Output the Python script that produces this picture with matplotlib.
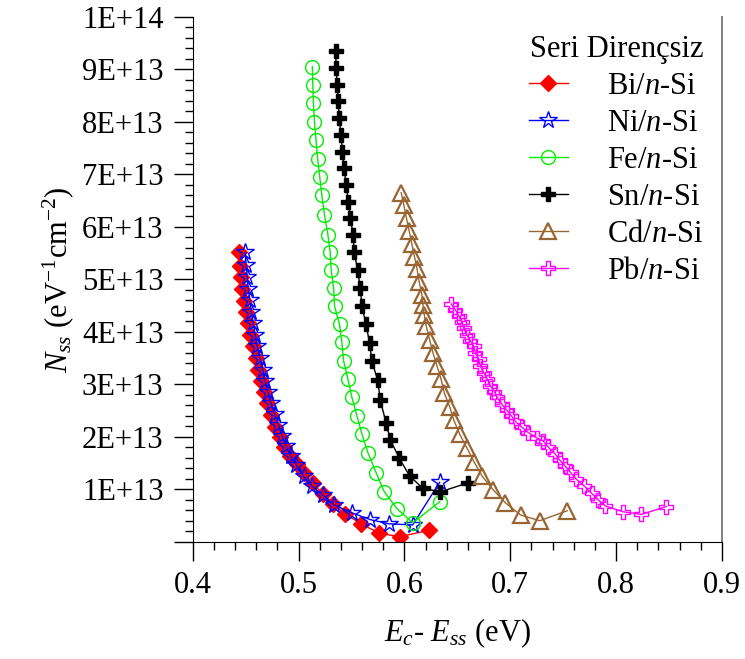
import matplotlib
matplotlib.use("Agg")
import matplotlib.pyplot as plt
from matplotlib.ticker import MultipleLocator, FuncFormatter

plt.rcParams["font.family"] = ["Liberation Serif", "DejaVu Serif"]
plt.rcParams["mathtext.fontset"] = "custom"
plt.rcParams["mathtext.rm"] = "Liberation Serif"
plt.rcParams["mathtext.it"] = "Liberation Serif:italic"

# E_c - E_ss (eV) and N_ss (x 1E13 eV^-1 cm^-2)
bi_x = [0.4441, 0.4447, 0.4457, 0.4470, 0.4489, 0.4504, 0.4520, 0.4542, 0.4567, 0.4596,
        0.4621, 0.4646, 0.4675, 0.4706, 0.4741, 0.4779, 0.4820, 0.4864, 0.4915, 0.4983,
        0.5053, 0.5135, 0.5230, 0.5330, 0.5441, 0.5592, 0.5763, 0.5958, 0.6236]
bi_y = [5.51, 5.26, 5.04, 4.81, 4.59, 4.38, 4.16, 3.94, 3.72, 3.50,
        3.27, 3.07, 2.85, 2.64, 2.42, 2.19, 1.99, 1.80, 1.63, 1.48,
        1.30, 1.11, 0.91, 0.72, 0.53, 0.34, 0.16, 0.095, 0.22]

ni_x = [0.4495, 0.4505, 0.4515, 0.4525, 0.4540, 0.4555, 0.4570, 0.4590, 0.4610, 0.4635,
        0.4660, 0.4685, 0.4710, 0.4740, 0.4775, 0.4810, 0.4845, 0.4880, 0.4925, 0.4975,
        0.5047, 0.5125, 0.5230, 0.5337, 0.5504, 0.5678, 0.5857, 0.6078, 0.6333]
ni_y = [5.51, 5.28, 5.05, 4.82, 4.60, 4.38, 4.16, 3.94, 3.72, 3.50,
        3.28, 3.06, 2.85, 2.64, 2.43, 2.22, 2.02, 1.83, 1.64, 1.47,
        1.25, 1.06, 0.89, 0.70, 0.55, 0.42, 0.34, 0.32, 1.13]

fe_x = [0.5130, 0.5135, 0.5140, 0.5150, 0.5165, 0.5180, 0.5200, 0.5220, 0.5245, 0.5277,
        0.5299, 0.5308, 0.5331, 0.5340, 0.5387, 0.5409, 0.5425, 0.5466, 0.5504, 0.5551,
        0.5599, 0.5656, 0.5734, 0.5810, 0.5930, 0.6078, 0.6333]
fe_y = [9.05, 8.70, 8.35, 8.00, 7.65, 7.30, 6.95, 6.60, 6.22, 5.85,
        5.51, 5.18, 4.84, 4.49, 4.14, 3.80, 3.45, 3.10, 2.75, 2.40,
        2.05, 1.69, 1.31, 0.95, 0.63, 0.36, 0.76]

sn_x = [0.5350, 0.5355, 0.5365, 0.5375, 0.5385, 0.5400, 0.5415, 0.5430, 0.5450, 0.5470,
        0.5490, 0.5514, 0.5526, 0.5558, 0.5583, 0.5599, 0.5636, 0.5671, 0.5693, 0.5747,
        0.5772, 0.5826, 0.5867, 0.5952, 0.6050, 0.6173, 0.6340, 0.6600]
sn_y = [9.35, 9.03, 8.71, 8.39, 8.07, 7.75, 7.43, 7.11, 6.80, 6.48,
        6.17, 5.85, 5.51, 5.18, 4.83, 4.49, 4.15, 3.79, 3.44, 3.08,
        2.70, 2.27, 1.94, 1.59, 1.25, 1.02, 0.95, 1.12]

cd_x = [0.5970, 0.5995, 0.6020, 0.6045, 0.6070, 0.6095, 0.6120, 0.6140, 0.6166, 0.6176,
        0.6188, 0.6207, 0.6238, 0.6271, 0.6308, 0.6346, 0.6378, 0.6428, 0.6466, 0.6522,
        0.6592, 0.6661, 0.6734, 0.6838, 0.6955, 0.7097, 0.7279, 0.7538]
cd_y = [6.65, 6.41, 6.16, 5.92, 5.68, 5.43, 5.19, 4.94, 4.70, 4.51,
        4.32, 4.10, 3.85, 3.59, 3.35, 3.10, 2.83, 2.57, 2.32, 2.05,
        1.78, 1.51, 1.25, 0.99, 0.74, 0.51, 0.40, 0.59]

pb_x = [0.6441, 0.6481, 0.6513, 0.6545, 0.6560, 0.6592, 0.6623, 0.6655, 0.6671, 0.6702,
        0.6718, 0.6749, 0.6781, 0.6813, 0.6851, 0.6876, 0.6920, 0.6970, 0.7010, 0.7050,
        0.7110, 0.7170, 0.7250, 0.7310, 0.7360, 0.7420, 0.7470, 0.7520, 0.7570, 0.7620,
        0.7700, 0.7770, 0.7830, 0.7900, 0.8068, 0.8240, 0.8475]
pb_y = [4.53, 4.42, 4.30, 4.19, 4.07, 3.94, 3.83, 3.72, 3.59, 3.48,
        3.35, 3.22, 3.10, 2.97, 2.86, 2.75, 2.62, 2.50, 2.40, 2.29,
        2.18, 2.08, 1.98, 1.92, 1.80, 1.68, 1.55, 1.44, 1.32, 1.20,
        1.06, 0.92, 0.80, 0.68, 0.57, 0.52, 0.67]

SCALE = 1e13

fig = plt.figure(figsize=(7.45, 6.59), dpi=100)
ax = fig.add_axes([0.2587, 0.178, 0.7103, 0.7965])

series = [
    ("Bi/$n$-Si", bi_x, bi_y, dict(color="#FF0000", marker="D", ms=8, mfc="#FF0000", mec="#FF0000")),
    ("Ni/$n$-Si", ni_x, ni_y, dict(color="#0000FF", marker="*", ms=13, mfc="none", mec="#0000FF", mew=1.0)),
    ("Fe/$n$-Si", fe_x, fe_y, dict(color="#00EE00", marker="o", ms=10, mfc="none", mec="#00EE00", mew=1.0)),
    ("Sn/$n$-Si", sn_x, sn_y, dict(color="#000000", marker="P", ms=10, mfc="#000000", mec="#000000")),
    ("Cd/$n$-Si", cd_x, cd_y, dict(color="#996633", marker="^", ms=11, mfc="none", mec="#996633", mew=1.6)),
    ("Pb/$n$-Si", pb_x, pb_y, dict(color="#FF00FF", marker="P", ms=10, mfc="none", mec="#FF00FF", mew=1.0)),
]
for label, xs, ys, style in series:
    ax.plot(xs, [v * SCALE for v in ys], lw=1, label=label, **style)

ax.set_xlim(0.4, 0.9)
ax.set_ylim(0, 1e14)
ax.xaxis.set_major_locator(MultipleLocator(0.1))
ax.xaxis.set_minor_locator(MultipleLocator(0.02))
ax.yaxis.set_major_locator(MultipleLocator(1e13))
ax.yaxis.set_minor_locator(MultipleLocator(2e12))


def sci_label(v, pos):
    if v == 0:
        return ""
    exp = len(str(int(round(v)))) - 1
    return "%dE+%d" % (round(v / 10 ** exp), exp)


ax.yaxis.set_major_formatter(FuncFormatter(sci_label))
ax.xaxis.set_major_formatter(FuncFormatter(lambda v, p: "%.1f" % v))

ax.tick_params(which="major", direction="out", length=14, width=1, labelsize=22, pad=7)
ax.tick_params(which="minor", direction="out", length=6, width=1)
ax.tick_params(right=False, top=False)
ax.spines["top"].set_visible(False)
ax.spines["right"].set_color("#808080")
ax.spines["right"].set_linewidth(1.4)

ax.set_xlabel("$E_c$- $E_{ss}$ (eV)", fontsize=22, labelpad=12)
ax.set_ylabel("$N_{ss}$ (eV$^{-1}$cm$^{-2}$)", fontsize=22, labelpad=4)

leg = ax.legend(title="Seri Dirençsiz", loc="upper right", frameon=False, fontsize=22,
                title_fontsize=22, handlelength=1.25, handletextpad=1.3,
                labelspacing=0.26, borderaxespad=0.2)

fig.savefig("out.png", dpi=100)
